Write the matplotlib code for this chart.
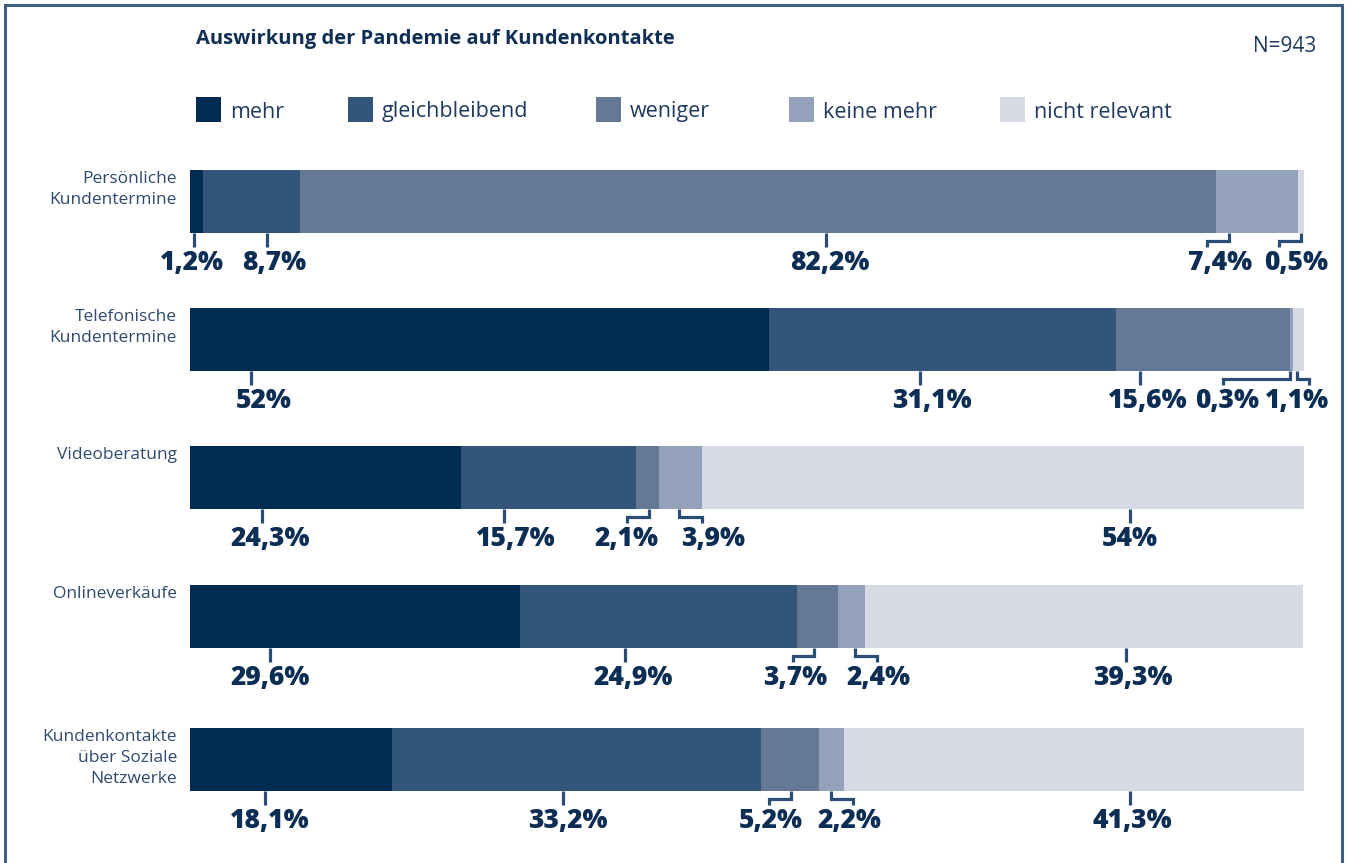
import matplotlib
matplotlib.use("Agg")
import matplotlib.pyplot as plt
from matplotlib.patches import Rectangle

# ---------------- data ----------------
title = "Auswirkung der Pandemie auf Kundenkontakte"
n_text = "N=943"
series = ["mehr", "gleichbleibend", "weniger", "keine mehr", "nicht relevant"]
categories = ["Persönliche\nKundentermine", "Telefonische\nKundentermine", "Videoberatung",
              "Onlineverkäufe", "Kundenkontakte\nüber Soziale\nNetzwerke"]
mehr = [1.2, 52.0, 24.3, 29.6, 18.1]
gleichbleibend = [8.7, 31.1, 15.7, 24.9, 33.2]
weniger = [82.2, 15.6, 2.1, 3.7, 5.2]
keine_mehr = [7.4, 0.3, 3.9, 2.4, 2.2]
nicht_relevant = [0.5, 1.1, 54.0, 39.3, 41.3]

# ---------------- layout ----------------
# row centres in pixels from the top of the image
row_px = [201.5, 339.5, 477.5, 616.5, 759.5]
# per row, per segment: (anchor x on bar, hook x, label centre x), in % units
label_layout = [
    [(0.36, None, 0.2), (6.9, None, 7.6), (57.1, None, 57.45), (93.3, 91.3, 92.5), (99.7, 97.8, 99.3)],
    [(5.5, None, 6.6), (65.5, None, 66.6), (85.3, None, 86.0), (98.7, 92.7, 93.1), (99.4, 100.45, 99.4)],
    [(6.5, None, 7.2), (28.2, None, 29.2), (41.2, 39.2, 39.2), (43.9, 46.0, 47.0), (84.4, None, 84.4)],
    [(7.2, None, 7.2), (39.05, None, 39.8), (56.0, 54.1, 54.3), (59.7, 61.7, 61.8), (84.0, None, 84.6)],
    [(6.7, None, 7.2), (33.5, None, 33.9), (53.95, 52.0, 52.1), (57.5, 59.5, 59.2), (84.4, None, 84.6)],
]

colors = ["#002b52", "#34557a", "#657896", "#93a1ba", "#d6dae4"]
label_color = "#0c2d54"
line_color = "#2a4d75"
cat_color = "#2e4a6e"

plt.rcParams["font.family"] = ["Open Sans", "DejaVu Sans"]

W, H = 1351, 863
fig = plt.figure(figsize=(W / 100, H / 100), dpi=100)

# axes in pixel units vertically: y in px (top of image = 0)
ax = fig.add_axes([190 / W, 0, 1114 / W, 1])
ax.set_xlim(0, 100)
ax.set_ylim(H, 0)
ax.axis("off")

values = [mehr, gleichbleibend, weniger, keine_mehr, nicht_relevant]
bar_h = 63
left = [0.0] * len(categories)
for s, vals in enumerate(values):
    ax.barh(row_px, vals, left=left, height=bar_h,
            color=colors[s], edgecolor="none", linewidth=0)
    left = [l + v for l, v in zip(left, vals)]

y_bot = bar_h / 2
y_mid = 39.5
y_end = 45.5
y_base = 68.5
lw = 2.3

for r, cat in enumerate(categories):
    yc = row_px[r]
    ax.text(-1.17, yc - bar_h / 2 + 1, cat, ha="right", va="top", fontsize=12.5,
            color=cat_color, linespacing=1.42, multialignment="right")
    for s, vals in enumerate(values):
        v = vals[r]
        anchor, hook, lx = label_layout[r][s]
        if hook is None:
            ax.plot([anchor, anchor], [yc + y_bot, yc + y_end], color=line_color,
                    lw=lw, solid_capstyle="butt", clip_on=False)
        else:
            ax.plot([anchor, anchor, hook, hook],
                    [yc + y_bot, yc + y_mid, yc + y_mid, yc + y_end],
                    color=line_color, lw=lw, solid_capstyle="butt",
                    solid_joinstyle="miter", clip_on=False)
        txt = ("%g" % v).replace(".", ",") + "%"
        ax.text(lx, yc + y_base, txt, ha="center", va="baseline", fontsize=19,
                fontweight=800, color=label_color, clip_on=False)

# title and N
fig.text(196 / W, 1 - 39 / H, title, ha="left", va="center", fontsize=14.5,
         fontweight="bold", color="#0f2f55")
fig.text(1316 / W, 1 - 47 / H, n_text, ha="right", va="center", fontsize=15,
         color="#1f3a5f")

# legend
leg_x = [196, 348, 596, 789, 1000]
for i, name in enumerate(series):
    fig.patches.append(Rectangle((leg_x[i] / W, 1 - 122 / H), 25 / W, 25 / H,
                                 transform=fig.transFigure, facecolor=colors[i],
                                 edgecolor="none"))
    fig.text((leg_x[i] + 34) / W, 1 - 112 / H, name, ha="left", va="center",
             fontsize=15.5, color="#1f3a5f")

# frame
fig.patches.append(Rectangle((5 / W, -0.02), 1337 / W, 1.02 - 5 / H,
                             transform=fig.transFigure, facecolor="none",
                             edgecolor="#3f5c82", linewidth=2.2))

fig.savefig("out.png", dpi=100)
